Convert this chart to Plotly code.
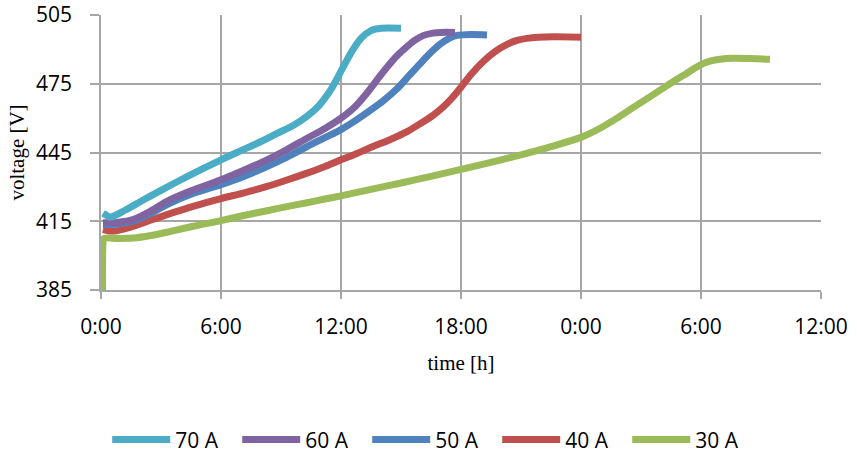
import plotly.graph_objects as go

# Charging curves: elapsed time [h] vs. pack voltage [V]
t_70 = [0.1, 0.2, 0.45, 1.2, 2.0, 3.0, 4.0, 5.0, 6.0, 7.0, 8.0, 8.8, 9.65, 10.3, 10.9, 11.5, 12.0, 12.5, 13.0, 13.5, 14.0, 15.0]
v_70 = [418.5, 418.0, 416.8, 419.8, 423.7, 428.5, 433.1, 437.5, 441.8, 445.8, 449.8, 453.3, 457.0, 460.8, 465.5, 472.5, 480.5, 488.5, 494.8, 498.2, 499.2, 499.2]

t_60 = [0.1, 0.8, 1.6, 2.5, 3.3, 4.5, 6.0, 7.2, 8.3, 9.3, 10.3, 11.2, 12.0, 12.7, 13.3, 13.8, 14.3, 14.8, 15.3, 15.7, 16.1, 16.6, 17.0, 17.7]
v_60 = [414.3, 414.5, 415.7, 419.5, 423.7, 428.3, 433.1, 437.5, 441.8, 446.3, 451.2, 455.5, 460.0, 465.0, 471.0, 476.7, 482.2, 487.2, 491.2, 494.0, 496.0, 497.1, 497.4, 497.4]

t_50 = [0.1, 0.8, 1.6, 2.5, 3.3, 4.5, 6.0, 7.2, 8.3, 9.3, 10.3, 11.2, 12.0, 12.7, 13.3, 14.1, 14.8, 15.4, 15.95, 16.5, 16.95, 17.4, 17.8, 18.5, 19.3]
v_50 = [413.6, 413.8, 415.0, 418.5, 422.3, 426.8, 431.0, 434.8, 438.9, 443.0, 447.6, 451.5, 455.0, 458.8, 462.4, 467.5, 472.8, 478.5, 483.7, 488.7, 492.2, 494.8, 496.1, 496.5, 496.3]

t_40 = [0.1, 0.6, 1.5, 2.4, 3.3, 4.6, 6.0, 7.2, 8.3, 9.3, 10.3, 11.2, 12.0, 12.8, 13.6, 14.5, 15.3, 16.0, 16.6, 17.1, 17.5, 18.0, 18.5, 19.1, 19.7, 20.3, 20.8, 21.3, 22.6, 24.0]
v_40 = [411.4, 410.7, 412.5, 415.2, 417.9, 421.5, 424.9, 427.5, 430.2, 433.0, 436.0, 438.9, 441.8, 444.6, 447.6, 450.8, 454.1, 457.8, 461.2, 464.8, 468.3, 473.5, 479.0, 484.6, 489.0, 492.2, 493.9, 494.8, 495.5, 495.3]

t_30 = [0.08, 0.1, 0.15, 0.8, 1.6, 2.5, 3.3, 4.6, 6.0, 7.2, 8.3, 9.3, 10.3, 11.2, 12.0, 13.5, 15.0, 16.5, 18.0, 19.5, 21.0, 22.5, 24.0, 25.0, 25.8, 26.6, 27.5, 28.3, 28.8, 29.3, 29.7, 30.1, 30.5, 30.95, 31.6, 32.5, 33.45]
v_30 = [385.0, 405.0, 407.5, 407.5, 407.7, 408.8, 410.2, 412.8, 415.3, 417.6, 419.6, 421.4, 423.1, 424.7, 426.1, 428.9, 431.7, 434.6, 437.6, 440.7, 444.0, 447.6, 451.6, 455.8, 460.0, 464.6, 469.6, 474.2, 477.0, 479.6, 481.9, 483.8, 485.0, 485.7, 486.1, 486.0, 485.7]

series = [
    ("70 A", t_70, v_70, "#4BACC6"),
    ("60 A", t_60, v_60, "#8064A2"),
    ("50 A", t_50, v_50, "#4F81BD"),
    ("40 A", t_40, v_40, "#C0504D"),
    ("30 A", t_30, v_30, "#9BBB59"),
]

x_ticks = [0, 6, 12, 18, 24, 30, 36]
x_ticktext = ["0:00", "6:00", "12:00", "18:00", "0:00", "6:00", "12:00"]
y_ticks = [385, 415, 445, 475, 505]

fig = go.Figure()
# draw from lowest to highest so the upper curves sit on top
for name, t, v, color in reversed(series):
    fig.add_trace(go.Scatter(
        x=t, y=v, name=name, mode="lines",
        line=dict(color=color, width=7, shape="spline", smoothing=0.8),
    ))

grid = "#A6A6A6"
sans = "Open Sans"
serif = "Liberation Serif"

fig.update_layout(
    width=857, height=457,
    margin=dict(l=101, r=36, t=15, b=167, autoexpand=False),
    paper_bgcolor="white", plot_bgcolor="white",
    showlegend=True,
    legend=dict(
        orientation="h", traceorder="reversed",
        x=0.46, xanchor="center", y=-0.545, yanchor="middle",
        font=dict(family=sans, size=21, color="#000000"),
        itemwidth=58,
        entrywidth=57, entrywidthmode="pixels",
    ),
    xaxis=dict(
        range=[0, 36], tickvals=x_ticks, ticktext=x_ticktext,
        showgrid=True, gridcolor=grid, gridwidth=1.5,
        showline=True, linecolor=grid, linewidth=1.5,
        ticks="outside", ticklen=7, tickcolor=grid, tickwidth=1.5,
        tickfont=dict(family=sans, size=21, color="#000000"),
        ticklabelstandoff=10,
        zeroline=False,
        title=dict(text="time [h]", font=dict(family=serif, size=21, color="#000000"), standoff=16),
    ),
    yaxis=dict(
        range=[385, 505], tickvals=y_ticks,
        showgrid=True, gridcolor=grid, gridwidth=1.5,
        showline=True, linecolor=grid, linewidth=1.5,
        ticks="outside", ticklen=9, tickcolor=grid, tickwidth=1.5,
        tickfont=dict(family=sans, size=21, color="#000000"),
        ticklabelstandoff=14,
        zeroline=False,
        title=dict(text="voltage [V]", font=dict(family=serif, size=21, color="#000000"), standoff=6),
    ),
)

fig.write_html("out.html")
